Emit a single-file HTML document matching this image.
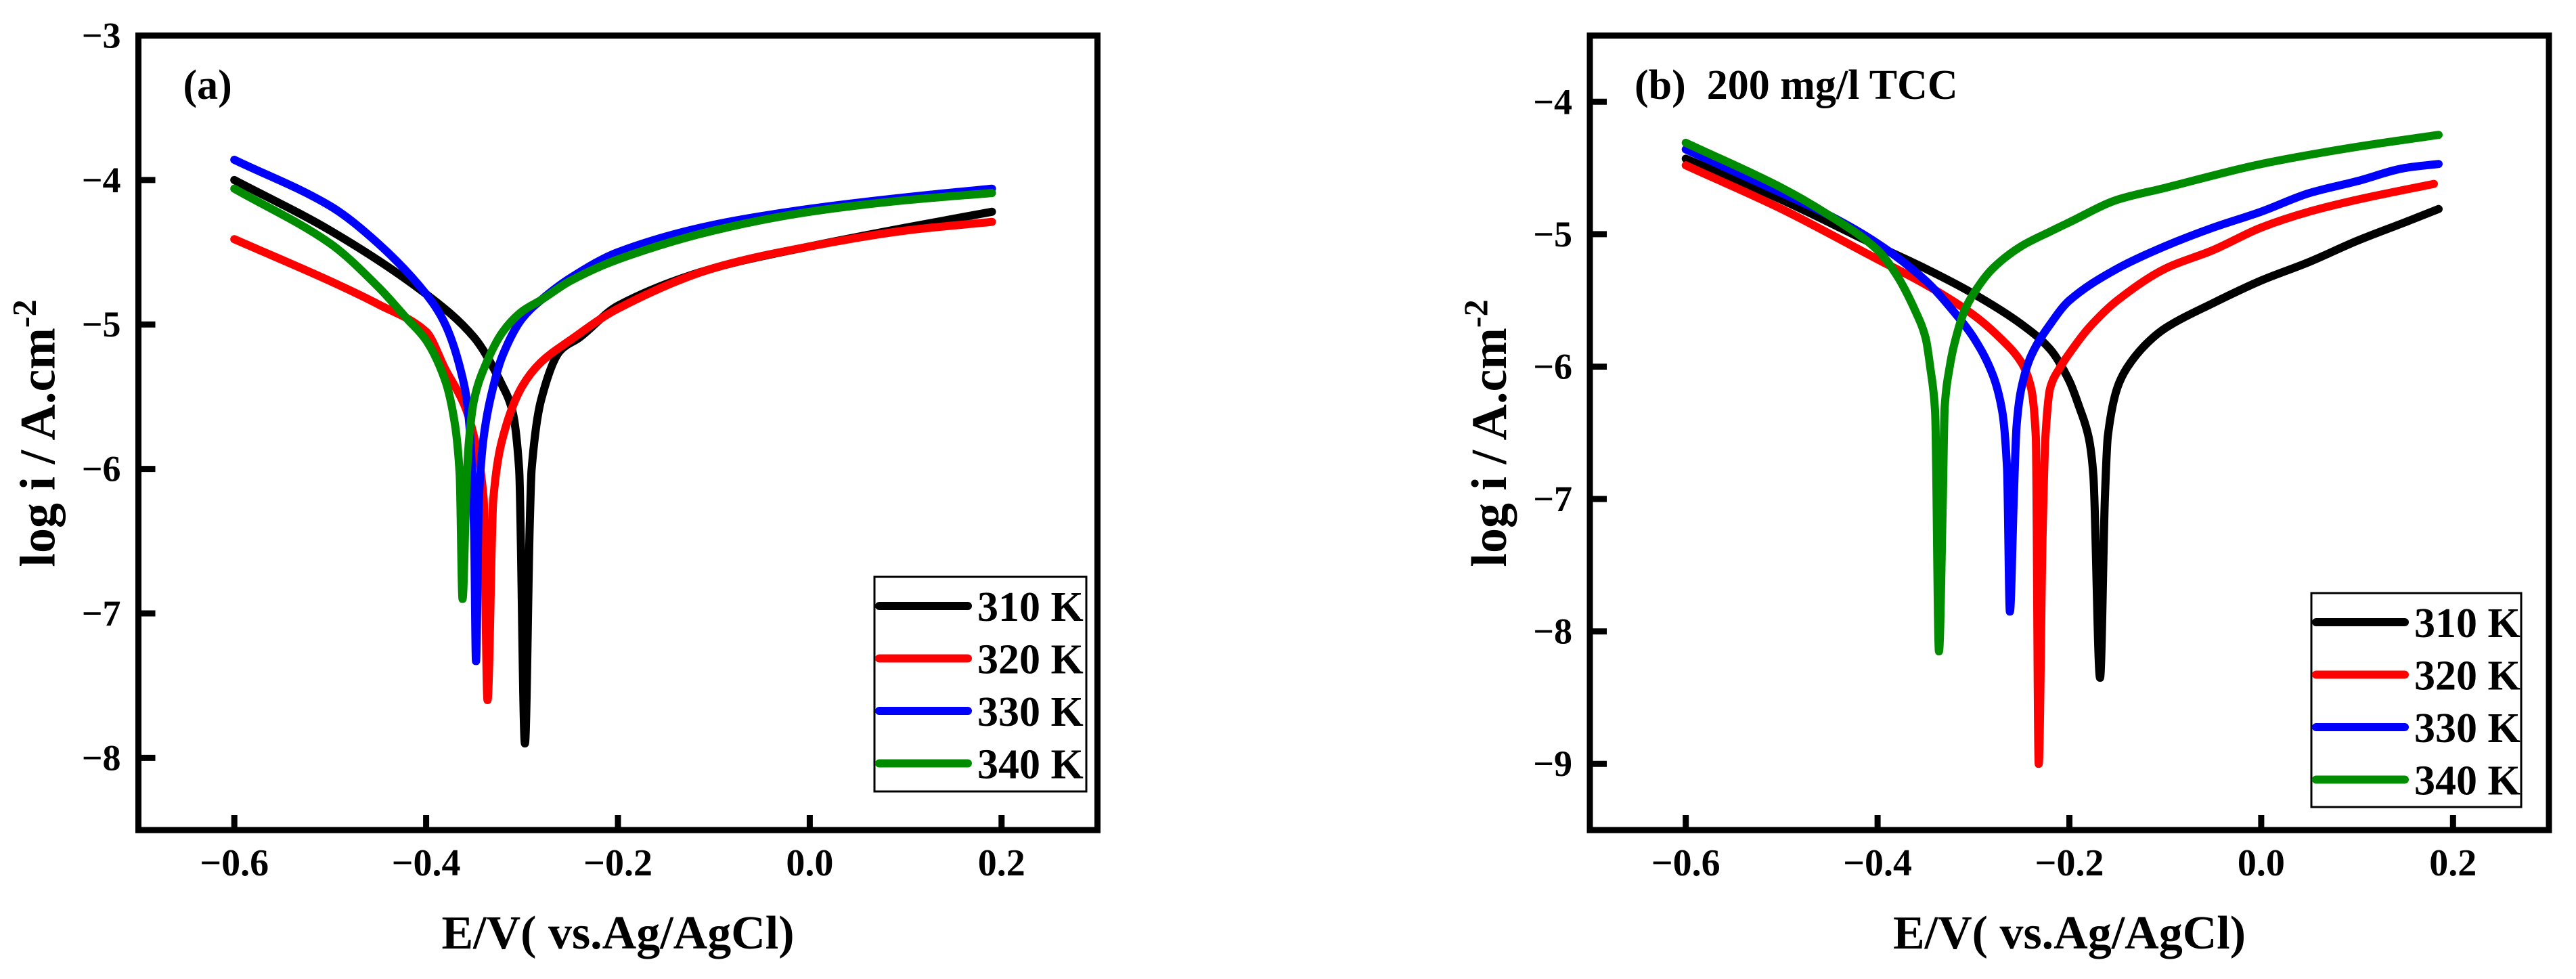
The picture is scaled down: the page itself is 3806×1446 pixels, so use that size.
<!DOCTYPE html>
<html><head><meta charset="utf-8"><style>
html,body{margin:0;padding:0;background:#fff;width:3806px;height:1446px;overflow:hidden}
svg{display:block}
text{font-family:"Liberation Serif",serif;font-weight:bold;fill:#000}
</style></head><body>
<svg id="chart" width="3806" height="1446" viewBox="0 0 3806 1446" xmlns="http://www.w3.org/2000/svg"></svg>
<script>
// ---- data ----
const seriesLabels = ["310 K","320 K","330 K","340 K"];
const seriesColors = ["#000000","#ff0000","#0000ff","#008c00"];
const xTicks = [-0.6,-0.4,-0.2,0.0,0.2];
const xTickLabels = ["\u22120.6","\u22120.4","\u22120.2","0.0","0.2"];
const yTicksA = [-3,-4,-5,-6,-7,-8];
const yTickLabelsA = ["\u22123","\u22124","\u22125","\u22126","\u22127","\u22128"];
const yTicksB = [-4,-5,-6,-7,-8,-9];
const yTickLabelsB = ["\u22124","\u22125","\u22126","\u22127","\u22128","\u22129"];

// panel (a) potentials and log i
const a310E = [-0.6,-0.5,-0.4,-0.35,-0.32,-0.31,-0.303,-0.297,-0.292,-0.29,-0.28,-0.26,-0.24,-0.2,-0.1,0,0.1,0.19];
const a310I = [-4.0,-4.35,-4.79,-5.09,-5.43,-5.6,-6.0,-7.9,-6.4,-6.0,-5.52,-5.18,-5.09,-4.87,-4.61,-4.46,-4.33,-4.22];
const a320E = [-0.6,-0.5,-0.45,-0.4,-0.38,-0.36,-0.35,-0.34,-0.336,-0.33,-0.32,-0.3,-0.28,-0.25,-0.2,-0.1,0,0.1,0.19];
const a320I = [-4.41,-4.70,-4.86,-5.05,-5.31,-5.56,-5.78,-6.21,-7.6,-6.21,-5.78,-5.43,-5.26,-5.11,-4.89,-4.61,-4.46,-4.35,-4.29];
const a330E = [-0.6,-0.5,-0.45,-0.4,-0.38,-0.36,-0.355,-0.35,-0.348,-0.345,-0.34,-0.33,-0.32,-0.3,-0.28,-0.25,-0.2,-0.1,0,0.1,0.19];
const a330I = [-3.86,-4.18,-4.44,-4.79,-5.0,-5.43,-5.69,-6.43,-7.33,-6.21,-5.78,-5.43,-5.21,-4.96,-4.83,-4.68,-4.5,-4.31,-4.2,-4.12,-4.06];
const a340E = [-0.6,-0.5,-0.45,-0.42,-0.4,-0.38,-0.37,-0.365,-0.362,-0.358,-0.355,-0.35,-0.34,-0.32,-0.3,-0.28,-0.25,-0.2,-0.1,0,0.1,0.19];
const a340I = [-4.06,-4.44,-4.74,-4.96,-5.11,-5.39,-5.69,-6.04,-6.9,-6.12,-5.78,-5.52,-5.31,-5.05,-4.91,-4.83,-4.70,-4.55,-4.35,-4.22,-4.14,-4.09];

// panel (b)
const b310E = [-0.6,-0.5,-0.4,-0.35,-0.3,-0.25,-0.22,-0.2,-0.19,-0.18,-0.175,-0.168,-0.163,-0.16,-0.15,-0.14,-0.12,-0.1,-0.05,0,0.05,0.1,0.15,0.185];
const b310I = [-4.43,-4.74,-5.09,-5.26,-5.45,-5.68,-5.87,-6.11,-6.30,-6.53,-6.82,-8.35,-7.0,-6.53,-6.16,-6.01,-5.83,-5.71,-5.52,-5.35,-5.21,-5.05,-4.91,-4.81];
const b320E = [-0.6,-0.5,-0.4,-0.35,-0.3,-0.27,-0.25,-0.24,-0.235,-0.232,-0.228,-0.225,-0.22,-0.21,-0.2,-0.18,-0.15,-0.1,-0.05,0,0.05,0.1,0.18];
const b320I = [-4.48,-4.81,-5.19,-5.38,-5.61,-5.8,-5.97,-6.16,-6.53,-9.0,-7.29,-6.53,-6.16,-6.01,-5.90,-5.71,-5.50,-5.26,-5.12,-4.95,-4.83,-4.74,-4.62];
const b330E = [-0.6,-0.5,-0.45,-0.4,-0.35,-0.32,-0.3,-0.28,-0.27,-0.265,-0.262,-0.258,-0.255,-0.25,-0.24,-0.22,-0.2,-0.15,-0.1,-0.05,0,0.05,0.1,0.15,0.185];
const b330I = [-4.36,-4.69,-4.86,-5.07,-5.35,-5.59,-5.78,-6.06,-6.34,-6.77,-7.85,-7.0,-6.44,-6.16,-5.92,-5.68,-5.5,-5.26,-5.09,-4.95,-4.83,-4.69,-4.6,-4.5,-4.47];
const b340E = [-0.6,-0.5,-0.45,-0.4,-0.38,-0.36,-0.35,-0.345,-0.34,-0.336,-0.332,-0.33,-0.325,-0.32,-0.31,-0.3,-0.28,-0.25,-0.22,-0.2,-0.15,-0.1,0,0.1,0.185];
const b340I = [-4.31,-4.65,-4.86,-5.12,-5.31,-5.59,-5.78,-6.01,-6.34,-8.15,-7.0,-6.3,-6.01,-5.83,-5.59,-5.45,-5.26,-5.09,-4.98,-4.91,-4.74,-4.65,-4.47,-4.34,-4.25];

const NS="http://www.w3.org/2000/svg";
const svg=document.getElementById('chart');
function mk(tag,attrs,parent){const e=document.createElementNS(NS,tag);for(const k in attrs)e.setAttribute(k,attrs[k]);(parent||svg).appendChild(e);return e;}

// monotone cubic path through pixel points (x increasing)
function monoPath(px,py){
  const n=px.length;const d=[],m=new Array(n);
  for(let i=0;i<n-1;i++)d.push((py[i+1]-py[i])/(px[i+1]-px[i]));
  m[0]=d[0];m[n-1]=d[n-2];
  for(let i=1;i<n-1;i++){m[i]=(d[i-1]*d[i]<=0)?0:(3*(d[i-1]+d[i]))/( (2*d[i]+d[i-1])/d[i-1]*0+ (d[i-1]+d[i])/ (d[i-1]*d[i]) * (d[i-1]*d[i])/ ( (d[i-1]+d[i])/2 ) )/6;
    if(d[i-1]*d[i]>0){m[i]=2/(1/d[i-1]+1/d[i]);}}
  let s='M'+px[0].toFixed(1)+','+py[0].toFixed(1);
  for(let i=0;i<n-1;i++){const h=px[i+1]-px[i];
    s+='C'+(px[i]+h/3).toFixed(1)+','+(py[i]+m[i]*h/3).toFixed(1)+' '+(px[i+1]-h/3).toFixed(1)+','+(py[i+1]-m[i+1]*h/3).toFixed(1)+' '+px[i+1].toFixed(1)+','+py[i+1].toFixed(1);}
  return s;
}

function panel(cfg){
  const g=mk('g',{});
  
  
  const L=cfg.left,R=cfg.left+1417,T=52.5,B=1226;
  const xs=v=>L+(v-(-0.7))/1.0*(R-L);
  const ys=v=>T+(cfg.yMax-v)/(cfg.yMax-cfg.yMin)*(B-T);
  cfg.series.forEach((s,i)=>{
    const d=monoPath(s[0].map(xs),s[1].map(ys));
    const p=mk('path',{d:d,fill:'none',stroke:seriesColors[i],'stroke-width':12,'stroke-linejoin':'round','stroke-linecap':'round'},g);
    
    
  });
  const fr=mk('rect',{x:L,y:T,width:R-L,height:B-T,fill:'none',stroke:'#000','stroke-width':9},g);
  
  
  xTicks.forEach((v,i)=>{
    const x=xs(v);
    const t=mk('line',{x1:x,x2:x,y1:B,y2:B-22,stroke:'#000','stroke-width':9},g);
    
    
    const tl=mk('text',{x:x,y:1293,'font-size':56,'text-anchor':'middle'},g);
    tl.textContent=xTickLabels[i];
    
    
  });
  cfg.yTicks.forEach((v,i)=>{
    const y=ys(v);
    const t=mk('line',{x1:L,x2:L+25,y1:y,y2:y,stroke:'#000','stroke-width':9},g);
    
    
    const tl=mk('text',{x:L-26,y:y+18,'font-size':54,'text-anchor':'end'},g);
    tl.textContent=cfg.yTickLabels[i];
    
    
  });
  const xt=mk('text',{x:(L+R)/2,y:1401,'font-size':70,'text-anchor':'middle'},g);
  xt.textContent='E/V( vs.Ag/AgCl)';
  
  
  const yt=mk('text',{x:0,y:0,'font-size':74,'text-anchor':'middle',transform:'translate('+(L-124)+',640) rotate(-90)'},g);
  yt.innerHTML='log i / A.cm<tspan dy="-28" font-size="50">-2</tspan>';
  
  
  const pl=mk('text',{x:L+66,y:146,'font-size':62},g);
  pl.textContent=cfg.label;
  
  
  const lg=mk('g',{},g);
  
  
  const lb=mk('rect',{x:cfg.leg.x,y:cfg.leg.y,width:cfg.leg.w,height:cfg.leg.h,fill:'#fff',stroke:'#000','stroke-width':3},lg);
  
  
  seriesLabels.forEach((lab,i)=>{
    const cy=cfg.leg.y+43+i*77.5;
    const ln=mk('line',{x1:cfg.leg.x+7,x2:cfg.leg.x+138,y1:cy,y2:cy,stroke:seriesColors[i],'stroke-width':12,'stroke-linecap':'round'},lg);
    
    
    const tx=mk('text',{x:cfg.leg.x+152,y:cy+22,'font-size':62},lg);
    tx.textContent=lab;
    
    
  });
}
panel({name:'panel-a',left:204.5,yMax:-3,yMin:-8.5,yTicks:yTicksA,yTickLabels:yTickLabelsA,label:'(a)',
  series:[[a310E,a310I],[a320E,a320I],[a330E,a330I],[a340E,a340I]],
  leg:{x:1292,y:852,w:313,h:317}});
panel({name:'panel-b',left:2349,yMax:-3.5,yMin:-9.5,yTicks:yTicksB,yTickLabels:yTickLabelsB,label:'(b)\u00a0\u00a0200 mg/l TCC',
  series:[[b310E,b310I],[b320E,b320I],[b330E,b330I],[b340E,b340I]],
  leg:{x:3415,y:876,w:310,h:316}});
</script>
</body></html>
